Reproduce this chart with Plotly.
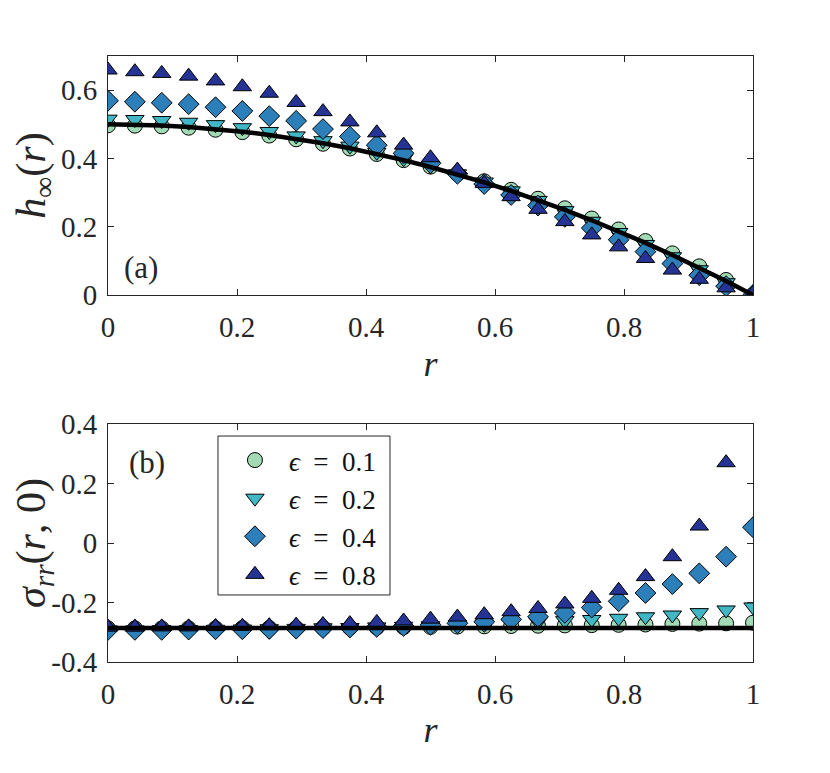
import plotly.graph_objects as go

# ----- Data -----
r = [0.0, 0.0417, 0.0833, 0.125, 0.1667, 0.2083, 0.25, 0.2917, 0.3333, 0.375,
     0.4167, 0.4583, 0.5, 0.5417, 0.5833, 0.625, 0.6667, 0.7083, 0.75, 0.7917,
     0.8333, 0.875, 0.9167, 0.9583, 1.0]

eps_labels = ["0.1", "0.2", "0.4", "0.8"]

# panel (a): h_inf(r)
h_exact = [0.5, 0.499, 0.4965, 0.4922, 0.4861, 0.4783, 0.4688, 0.4575, 0.4444, 0.4297,
           0.4132, 0.395, 0.375, 0.3533, 0.3299, 0.3047, 0.2778, 0.2491, 0.2188, 0.1866,
           0.1528, 0.1172, 0.0799, 0.0408, 0.0]
h_e01 = [0.497, 0.496, 0.494, 0.490, 0.484, 0.477, 0.467, 0.456, 0.443, 0.429,
         0.413, 0.395, 0.376, 0.355, 0.333, 0.308, 0.282, 0.254, 0.224, 0.192,
         0.158, 0.122, 0.084, 0.044, 0.0]
h_e02 = [0.515, 0.514, 0.511, 0.506, 0.499, 0.490, 0.479, 0.466, 0.452, 0.436,
         0.418, 0.399, 0.378, 0.355, 0.331, 0.305, 0.277, 0.247, 0.216, 0.183,
         0.148, 0.112, 0.074, 0.036, 0.0]
h_e04 = [0.569, 0.566, 0.563, 0.559, 0.550, 0.539, 0.524, 0.510, 0.486, 0.464,
         0.439, 0.415, 0.386, 0.355, 0.325, 0.293, 0.262, 0.229, 0.196, 0.162,
         0.127, 0.092, 0.058, 0.026, 0.0]
h_e08 = [0.659, 0.654, 0.649, 0.641, 0.627, 0.610, 0.591, 0.564, 0.537, 0.507,
         0.475, 0.439, 0.402, 0.366, 0.327, 0.288, 0.251, 0.215, 0.176, 0.141,
         0.107, 0.073, 0.046, 0.021, 0.005]

# panel (b): sigma_rr(r, 0)
s_exact = [-0.286, -0.286, -0.286, -0.286, -0.286, -0.286, -0.286, -0.286, -0.286, -0.286,
           -0.286, -0.286, -0.286, -0.286, -0.286, -0.286, -0.286, -0.286, -0.286, -0.286,
           -0.286, -0.286, -0.286, -0.286, -0.286]
s_e01 = [-0.287, -0.287, -0.287, -0.287, -0.287, -0.286, -0.286, -0.286, -0.285, -0.285,
         -0.284, -0.283, -0.282, -0.281, -0.280, -0.279, -0.278, -0.277, -0.276, -0.275,
         -0.274, -0.272, -0.271, -0.270, -0.268]
s_e02 = [-0.292, -0.292, -0.291, -0.291, -0.290, -0.289, -0.288, -0.287, -0.285, -0.284,
         -0.282, -0.280, -0.278, -0.275, -0.272, -0.269, -0.265, -0.261, -0.257, -0.253,
         -0.248, -0.242, -0.234, -0.225, -0.215]
s_e04 = [-0.292, -0.292, -0.292, -0.291, -0.290, -0.290, -0.289, -0.288, -0.286, -0.284,
         -0.282, -0.279, -0.275, -0.270, -0.265, -0.257, -0.248, -0.235, -0.217, -0.196,
         -0.168, -0.138, -0.102, -0.046, 0.053]
s_e08 = [-0.283, -0.283, -0.282, -0.282, -0.281, -0.280, -0.278, -0.276, -0.274, -0.271,
         -0.267, -0.262, -0.256, -0.249, -0.241, -0.231, -0.220, -0.205, -0.186, -0.159,
         -0.113, -0.046, 0.057, 0.270, None]

x_ticks = [0, 0.2, 0.4, 0.6, 0.8, 1]
x_ticktext = ["0", "0.2", "0.4", "0.6", "0.8", "1"]
ya_ticks = [0, 0.2, 0.4, 0.6]
ya_ticktext = ["0", "0.2", "0.4", "0.6"]
yb_ticks = [-0.4, -0.2, 0, 0.2, 0.4]
yb_ticktext = ["-0.4", "-0.2", "0", "0.2", "0.4"]

# ----- Styles -----
colors = ["#a1dab4", "#41b6c4", "#2c7fb8", "#253494"]
symbols = ["circle", "triangle-down", "diamond", "triangle-up"]
sizes = [15, 16, 16, 16]
FONT = "'Liberation Serif', 'DejaVu Serif', serif"
TXT = "#262626"

fig = go.Figure()

h_series = [h_e01, h_e02, h_e04, h_e08]
s_series = [s_e01, s_e02, s_e04, s_e08]

for i in range(4):
    fig.add_trace(go.Scatter(
        x=r, y=h_series[i], mode="markers", xaxis="x", yaxis="y",
        marker=dict(symbol=symbols[i], size=sizes[i], color=colors[i],
                    line=dict(color="black", width=1)),
        showlegend=False))
fig.add_trace(go.Scatter(x=r, y=h_exact, mode="lines", xaxis="x", yaxis="y",
                         line=dict(color="black", width=4.5), showlegend=False))

for i in range(4):
    fig.add_trace(go.Scatter(
        x=r, y=s_series[i], mode="markers", xaxis="x2", yaxis="y2",
        marker=dict(symbol=symbols[i], size=sizes[i], color=colors[i],
                    line=dict(color="black", width=1)),
        name="<i>ϵ</i>\u2002=\u2002" + eps_labels[i]))
fig.add_trace(go.Scatter(x=r, y=s_exact, mode="lines", xaxis="x2", yaxis="y2",
                         line=dict(color="black", width=4.5), showlegend=False))

axis_common = dict(showline=True, linecolor=TXT, linewidth=1, mirror="ticks",
                   ticks="inside", ticklen=6, tickcolor=TXT, showgrid=False,
                   zeroline=False, automargin=False,
                   tickfont=dict(size=29, family=FONT, color=TXT))

fig.update_layout(
    width=830, height=773,
    margin=dict(l=100, r=85, t=48, b=119),
    paper_bgcolor="white", plot_bgcolor="white",
    font=dict(family=FONT, color=TXT),
    xaxis=dict(domain=[0, 1], anchor="y", range=[0, 1],
               tickvals=x_ticks, ticktext=x_ticktext, ticklabelstandoff=6,
               title=dict(text="<i>r</i>", font=dict(size=36, family=FONT), standoff=8),
               **axis_common),
    yaxis=dict(domain=[0.6056, 1], anchor="x", range=[0, 0.7],
               tickvals=ya_ticks, ticktext=ya_ticktext, ticklabelstandoff=4,
               title=dict(text="<i>h</i><sub>∞</sub>(<i>r</i>)", font=dict(size=42, family=FONT),
                          standoff=6),
               **axis_common),
    xaxis2=dict(domain=[0, 1], anchor="y2", range=[0, 1],
                tickvals=x_ticks, ticktext=x_ticktext, ticklabelstandoff=6,
                title=dict(text="<i>r</i>", font=dict(size=36, family=FONT), standoff=8),
                **axis_common),
    yaxis2=dict(domain=[0, 0.3927], anchor="x2", range=[-0.4, 0.4],
                tickvals=yb_ticks, ticktext=yb_ticktext, ticklabelstandoff=4,
                title=dict(text="<i>σ<sub>rr</sub></i>(<i>r</i>, 0)",
                           font=dict(size=42, family=FONT), standoff=4),
                **axis_common),
    legend=dict(x=0.1751, y=0.3729, xanchor="left", yanchor="top",
                bgcolor="rgba(0,0,0,0)", borderwidth=0,
                font=dict(size=27, family=FONT, color="#111111"),
                itemwidth=58),
    shapes=[dict(type="rect", xref="paper", yref="paper",
                 x0=0.1705, x1=0.4372, y0=0.1106, y1=0.3729,
                 line=dict(color=TXT, width=1), fillcolor="white", layer="below")],
    annotations=[
        dict(text="(a)", x=0.022, y=0.08, xref="x", yref="y", xanchor="left",
             yanchor="middle", showarrow=False, font=dict(size=31, family=FONT, color=TXT)),
        dict(text="(b)", x=0.029, y=0.272, xref="x2", yref="y2", xanchor="left",
             yanchor="middle", showarrow=False, font=dict(size=31, family=FONT, color=TXT)),
    ],
)

fig.write_html("out.html")
